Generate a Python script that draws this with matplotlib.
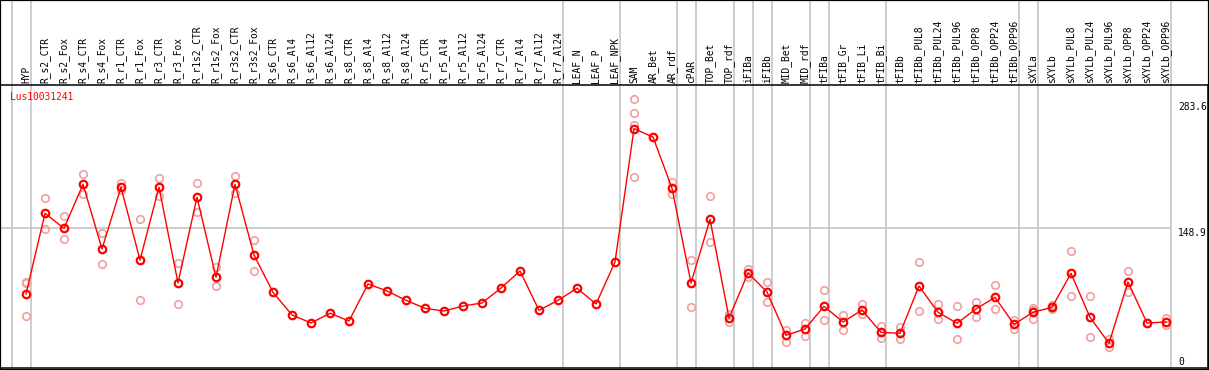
import matplotlib
matplotlib.use("Agg")
import matplotlib.pyplot as plt
import matplotlib.transforms as mtransforms
from matplotlib.patches import Rectangle

gene = "Lus10031241"

labels = ["HYP", "R_s2_CTR", "R_s2_Fox", "R_s4_CTR", "R_s4_Fox", "R_r1_CTR", "R_r1_Fox",
          "R_r3_CTR", "R_r3_Fox", "R_r1s2_CTR", "R_r1s2_Fox", "R_r3s2_CTR", "R_r3s2_Fox",
          "R_s6_CTR", "R_s6_Al4", "R_s6_Al12", "R_s6_Al24", "R_s8_CTR", "R_s8_Al4", "R_s8_Al12",
          "R_s8_Al24", "R_r5_CTR", "R_r5_Al4", "R_r5_Al12", "R_r5_Al24", "R_r7_CTR", "R_r7_Al4",
          "R_r7_Al12", "R_r7_Al24", "LEAF_N", "LEAF_P", "LEAF_NPK", "SAM", "AR_Bet", "AR_rdf",
          "cPAR", "TOP_Bet", "TOP_rdf", "iFIBa", "iFIBb", "MID_Bet", "MID_rdf", "tFIBa",
          "tFIB_Gr", "tFIB_Li", "tFIB_Bi", "tFIBb", "tFIBb_PUL8", "tFIBb_PUL24", "tFIBb_PUL96",
          "tFIBb_OPP8", "tFIBb_OPP24", "tFIBb_OPP96", "sXYLa", "sXYLb", "sXYLb_PUL8",
          "sXYLb_PUL24", "sXYLb_PUL96", "sXYLb_OPP8", "sXYLb_OPP24", "sXYLb_OPP96"]

means = [75.8, 165.5, 148.9, 197.8, 125.9, 194.5, 113.6, 194.5, 88.1, 183.4, 94.4, 197.8, 119.2,
         77.7, 52.5, 43.6, 54.4, 45.8, 87.0, 79.2, 68.8, 59.9, 56.9, 62.5, 65.8, 82.5, 101.4,
         57.7, 68.8, 82.2, 64.7, 111.4, 259.6, 250.4, 193.4, 88.1, 158.9, 49.1, 99.2, 78.1,
         29.9, 36.9, 62.1, 44.7, 58.0, 33.2, 32.1, 84.7, 55.5, 43.3, 59.2, 72.1, 42.1, 55.5,
         61.0, 98.8, 49.9, 21.0, 89.2, 43.6, 44.7]

replicates = [
    [88.8, 87.5, 51.2], [182.2, 147.8], [162.2, 136.7], [209.3, 187.0], [143.3, 109.2],
    [198.9, 191.5], [159.2, 68.8], [204.8, 184.8], [110.0, 64.7], [198.9, 167.3],
    [106.2, 84.4], [207.0, 188.5], [135.5, 101.1],
    [], [], [], [], [], [], [], [], [], [], [], [], [], [], [], [], [], [], [],
    [293.0, 276.8, 263.4, 205.6], [], [200.7, 187.0], [113.3, 61.0], [184.8, 133.3],
    [53.9, 44.4], [103.3, 94.4], [89.2, 66.9], [36.1, 22.8], [43.9, 28.8], [80.3, 46.9],
    [52.1, 35.4], [64.7, 53.2], [40.6, 26.5], [39.5, 25.5], [111.1, 56.9], [64.7, 47.7],
    [62.1, 25.8], [66.9, 49.9], [85.5, 58.8], [46.9, 37.3], [60.6, 58.4, 47.7],
    [63.6, 59.5], [123.3, 73.3], [73.3, 27.7], [26.1, 17.2], [101.1, 77.7], [43.3],
    [48.8, 41.4]]

# group boundaries (drawn right after these columns)
group_ends = [-1, 0, 28, 31, 34, 35, 37, 38, 39, 41, 42, 45, 52, 53, 60]

axis_marks = [283.6, 148.9, 0]

W, H = 1209, 370
fig = plt.figure(figsize=(W / 100, H / 100), dpi=100)
top_px, bot_px = 85.3, 368.3
ax = fig.add_axes([0, (H - bot_px) / H, 1208 / W, (bot_px - top_px) / H])

x0, step = 26, 19
ax.set_xlim(-x0 / step, (1208 - x0) / step)
ax.set_ylim(-6.8, 307.9)
ax.set_xticks([])
ax.set_yticks([])
for s in ax.spines.values():
    s.set_color("black")
    s.set_linewidth(1.1)

trans = mtransforms.blended_transform_factory(ax.transData, ax.transAxes)
top_frac = bot_px / (bot_px - top_px)
off = 4.7 / step
for g in group_ends:
    ax.plot([g + off, g + off], [0, top_frac], transform=trans, color="#c0c0c0",
            lw=1.1, clip_on=False, zorder=1)

ax.hlines(148.9, ax.get_xlim()[0], 60 + off, color="#c0c0c0", lw=1.1, zorder=1)

x = list(range(len(labels)))
for i, reps in enumerate(replicates):
    if reps:
        ax.plot([i] * len(reps), reps, linestyle="none", marker="o", ms=5.4, mfc="none",
                mec="#f0a0a0", mew=1.2, zorder=2)

ax.plot(x, means, color="#ff0000", lw=1, marker="o", ms=5.4, mfc="none", mec="#ff0000",
        mew=1.6, zorder=3)

mono = "DejaVu Sans Mono"
label_y = (bot_px - 83) / (bot_px - top_px)
for i, lab in enumerate(labels):
    ax.text(i, label_y, lab, rotation=90, ha="center", va="bottom", transform=trans,
            clip_on=False, fontsize=6.9, family=mono)

rx = (1178 - x0) / step
for v in axis_marks:
    va = "top" if v == 148.9 else "center"
    ax.text(rx, v, str(v) if v else "0", ha="left", va=va, fontsize=6.9, family=mono)

ax.text((10 - x0) / step, 294.9, gene, color="#ff0000", ha="left", va="center",
        fontsize=6.9, family=mono)

fig.add_artist(Rectangle((0, 0), 1, 1, transform=fig.transFigure, fill=False,
                         ec="black", lw=1.6))

fig.savefig("out.png", dpi=100)
